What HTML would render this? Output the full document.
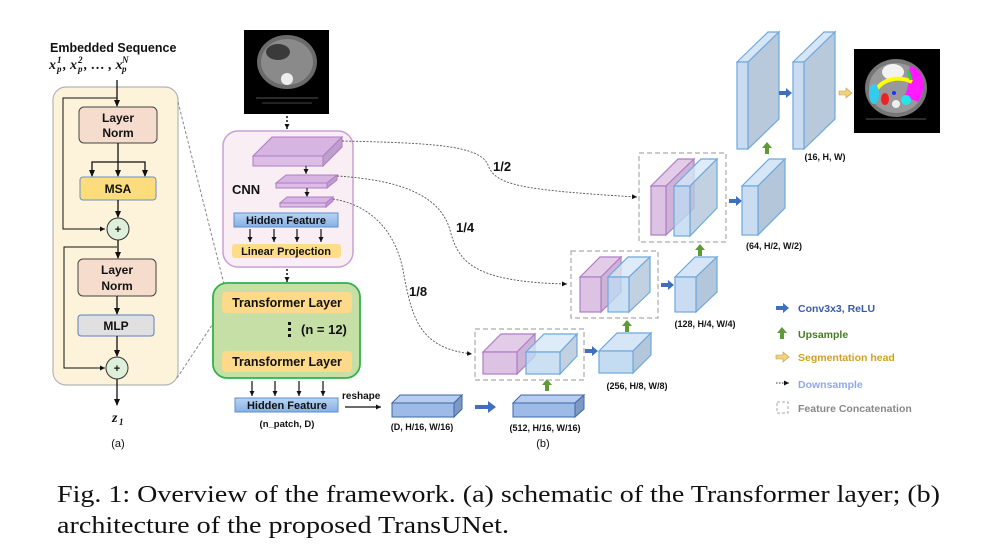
<!DOCTYPE html>
<html><head><meta charset="utf-8"><style>
html,body{margin:0;padding:0;background:#fff;}
svg{display:block;}
.b{font-family:"Liberation Sans",sans-serif;font-weight:bold;fill:#111;}
.m{font-family:"Liberation Serif",serif;font-style:italic;font-weight:bold;fill:#111;}
</style></head><body>
<svg width="998" height="557" viewBox="0 0 998 557" xmlns="http://www.w3.org/2000/svg">
<defs>
<marker id="ah" markerWidth="8" markerHeight="8" refX="6" refY="4" orient="auto" markerUnits="userSpaceOnUse"><path d="M0,1 L7,4 L0,7z" fill="#111"/></marker>
<marker id="sh" markerWidth="6" markerHeight="6" refX="5" refY="3" orient="auto" markerUnits="userSpaceOnUse"><path d="M0,0.5 L5,3 L0,5.5z" fill="#111"/></marker>
<linearGradient id="hf" x1="0" y1="0" x2="0" y2="1"><stop offset="0" stop-color="#b9d4f3"/><stop offset="1" stop-color="#86b0e3"/></linearGradient>
</defs>
<rect width="998" height="557" fill="#fff"/>

<!-- Panel (a) -->
<text x="50" y="52" class="b" font-size="12.5">Embedded Sequence</text>
<text x="49" y="69" class="m" font-size="14">x</text>
<text x="57" y="72" class="m" font-size="9">p</text>
<text x="57" y="63" class="m" font-size="9">1</text>
<text x="63" y="69" class="m" font-size="14">, x</text>
<text x="78" y="72" class="m" font-size="9">p</text>
<text x="78" y="63" class="m" font-size="9">2</text>
<text x="84" y="69" class="m" font-size="14">, … , x</text>
<text x="122" y="72" class="m" font-size="9">p</text>
<text x="122" y="63" class="m" font-size="9">N</text>
<rect x="53" y="87" width="125" height="298" rx="13" fill="#fdf2da" stroke="#b5b5b5" stroke-width="1.2"/>
<line x1="117" y1="80" x2="117" y2="106" stroke="#111" stroke-width="1.3" marker-end="url(#ah)"/>
<polyline points="117,98 63,98 63,229 105,229" fill="none" stroke="#111" stroke-width="1" marker-end="url(#sh)"/>
<rect x="79" y="107" width="78" height="36" rx="5" fill="#f6dccd" stroke="#444" stroke-width="1"/>
<text x="118" y="122" class="b" font-size="12" text-anchor="middle">Layer</text>
<text x="118" y="137" class="b" font-size="12" text-anchor="middle">Norm</text>
<line x1="118" y1="143" x2="118" y2="176" stroke="#111" stroke-width="1.3" marker-end="url(#ah)"/>
<polyline points="92,176 92,162 145,162 145,176" fill="none" stroke="#111" stroke-width="1.3"/>
<line x1="92" y1="170" x2="92" y2="176" stroke="#111" marker-end="url(#ah)"/>
<line x1="145" y1="170" x2="145" y2="176" stroke="#111" marker-end="url(#ah)"/>
<rect x="80" y="177" width="76" height="23" rx="3" fill="#fddc7b" stroke="#6a8fc7" stroke-width="1"/>
<text x="118" y="193" class="b" font-size="12" text-anchor="middle">MSA</text>
<line x1="118" y1="200" x2="118" y2="217" stroke="#111" stroke-width="1.3" marker-end="url(#ah)"/>
<circle cx="118" cy="229" r="11" fill="#dff0da" stroke="#333" stroke-width="1"/>
<text x="118" y="233" class="b" font-size="11" text-anchor="middle">+</text>
<line x1="118" y1="240" x2="118" y2="258" stroke="#111" stroke-width="1.3" marker-end="url(#ah)"/>
<polyline points="117,247 64,247 64,368 105,368" fill="none" stroke="#111" stroke-width="1" marker-end="url(#sh)"/>
<rect x="78" y="259" width="78" height="37" rx="5" fill="#f6dccd" stroke="#444" stroke-width="1"/>
<text x="117" y="274" class="b" font-size="12" text-anchor="middle">Layer</text>
<text x="117" y="290" class="b" font-size="12" text-anchor="middle">Norm</text>
<line x1="117" y1="296" x2="117" y2="314" stroke="#111" stroke-width="1.3" marker-end="url(#ah)"/>
<rect x="78" y="315" width="76" height="21" rx="3" fill="#e0e0e0" stroke="#5a7fbf" stroke-width="1"/>
<text x="116" y="330" class="b" font-size="12" text-anchor="middle">MLP</text>
<line x1="117" y1="336" x2="117" y2="356" stroke="#111" stroke-width="1.3" marker-end="url(#ah)"/>
<circle cx="117" cy="368" r="11" fill="#dff0da" stroke="#333" stroke-width="1"/>
<text x="117" y="372" class="b" font-size="11" text-anchor="middle">+</text>
<line x1="117" y1="379" x2="117" y2="405" stroke="#111" stroke-width="1.3" marker-end="url(#ah)"/>
<text x="112" y="422" class="m" font-size="14">z</text>
<text x="119" y="425" class="m" font-size="9">1</text>
<text x="118" y="447" font-family="Liberation Sans,sans-serif" font-size="11" fill="#111" text-anchor="middle">(a)</text>
<line x1="178" y1="102" x2="224" y2="284" stroke="#888" stroke-width="1" stroke-dasharray="3,2"/>
<line x1="177" y1="378" x2="226" y2="304" stroke="#888" stroke-width="1" stroke-dasharray="3,2"/>

<!-- CT image -->
<rect x="244" y="30" width="85" height="84" fill="#000"/>
<ellipse cx="287" cy="62" rx="30" ry="27" fill="#6a6a6a"/>
<ellipse cx="287" cy="62" rx="26" ry="23" fill="#8a8a8a"/>
<ellipse cx="278" cy="52" rx="12" ry="8" fill="#3a3a3a"/>
<circle cx="287" cy="79" r="6" fill="#eee"/>
<line x1="256" y1="98" x2="318" y2="98" stroke="#555" stroke-width="1"/>
<line x1="262" y1="103" x2="312" y2="103" stroke="#444" stroke-width="1"/>
<line x1="287" y1="116" x2="287" y2="129" stroke="#111" stroke-width="1.5" stroke-dasharray="2,2" marker-end="url(#sh)"/>

<!-- CNN box -->
<rect x="223" y="131" width="130" height="136" rx="15" fill="#f9eef4" stroke="#c89fd6" stroke-width="1.5"/>
<polygon points="253,156 272,137 342,137 323,156" fill="#d7b5e3" stroke="#b07cc6"/>
<polygon points="323,156 342,137 342,147 323,166" fill="#bf9fcc" stroke="#b07cc6"/>
<rect x="253" y="156" width="70" height="10" fill="#dcbde6" stroke="#b07cc6"/>
<line x1="306" y1="166" x2="306" y2="174" stroke="#111" marker-end="url(#sh)"/>
<polygon points="276,183 286,175 337,175 327,183" fill="#d7b5e3" stroke="#b07cc6"/>
<polygon points="327,183 337,175 337,180 327,188" fill="#bf9fcc" stroke="#b07cc6"/>
<rect x="276" y="183" width="51" height="5" fill="#dcbde6" stroke="#b07cc6"/>
<line x1="307" y1="188" x2="307" y2="197" stroke="#111" marker-end="url(#sh)"/>
<polygon points="280,203 287,197 333,197 326,203" fill="#d7b5e3" stroke="#b07cc6"/>
<polygon points="326,203 333,197 333,201 326,207" fill="#bf9fcc" stroke="#b07cc6"/>
<rect x="280" y="203" width="46" height="4" fill="#dcbde6" stroke="#b07cc6"/>
<text x="232" y="194" class="b" font-size="13">CNN</text>
<rect x="234" y="213" width="104" height="14" fill="url(#hf)" stroke="#5b8fd0"/>
<text x="286" y="224" class="b" font-size="11" text-anchor="middle">Hidden Feature</text>
<g stroke="#111" stroke-width="1.2">
<line x1="250" y1="229" x2="250" y2="242" marker-end="url(#sh)"/>
<line x1="274" y1="229" x2="274" y2="242" marker-end="url(#sh)"/>
<line x1="297" y1="229" x2="297" y2="242" marker-end="url(#sh)"/>
<line x1="321" y1="229" x2="321" y2="242" marker-end="url(#sh)"/>
</g>
<rect x="232" y="244" width="109" height="14" rx="3" fill="#fddc8a"/>
<text x="286" y="255" class="b" font-size="11" text-anchor="middle">Linear Projection</text>
<line x1="287" y1="269" x2="287" y2="282" stroke="#111" stroke-width="1.5" stroke-dasharray="2,2" marker-end="url(#sh)"/>

<!-- Transformer box -->
<rect x="213" y="283" width="147" height="95" rx="14" fill="#c6dfa6" stroke="#2fb34a" stroke-width="1.8"/>
<rect x="222" y="292" width="130" height="21" rx="4" fill="#fdd98a"/>
<text x="287" y="307" class="b" font-size="12.5" text-anchor="middle">Transformer Layer</text>
<rect x="288" y="322" width="3" height="3" fill="#111"/><rect x="288" y="328" width="3" height="3" fill="#111"/><rect x="288" y="334" width="3" height="3" fill="#111"/>
<text x="301" y="334" class="b" font-size="13">(n = 12)</text>
<rect x="222" y="351" width="130" height="21" rx="4" fill="#fdd98a"/>
<text x="287" y="366" class="b" font-size="12.5" text-anchor="middle">Transformer Layer</text>
<g stroke="#111" stroke-width="1.2">
<line x1="252" y1="381" x2="252" y2="396" marker-end="url(#sh)"/>
<line x1="275" y1="381" x2="275" y2="396" marker-end="url(#sh)"/>
<line x1="299" y1="381" x2="299" y2="396" marker-end="url(#sh)"/>
<line x1="323" y1="381" x2="323" y2="396" marker-end="url(#sh)"/>
</g>
<rect x="235" y="398" width="103" height="14" fill="url(#hf)" stroke="#5b8fd0"/>
<text x="287" y="409" class="b" font-size="11" text-anchor="middle">Hidden Feature</text>
<text x="287" y="427" class="b" font-size="9.5" text-anchor="middle">(n_patch, D)</text>
<text x="342" y="399" class="b" font-size="10">reshape</text>
<line x1="345" y1="407" x2="381" y2="407" stroke="#111" stroke-width="1.2" marker-end="url(#sh)"/>

<!-- skip curves -->
<g fill="none" stroke="#555" stroke-width="0.9" stroke-dasharray="2,1.5">
<path d="M342,141 C430,143 480,145 488,165 C495,185 520,190 637,197" marker-end="url(#sh)"/>
<path d="M337,176 C400,180 440,195 450,230 C458,260 470,282 567,284" marker-end="url(#sh)"/>
<path d="M333,199 C370,205 395,230 403,270 C412,320 420,348 472,354" marker-end="url(#sh)"/>
</g>
<text x="493" y="171" class="b" font-size="13">1/2</text>
<text x="456" y="232" class="b" font-size="13">1/4</text>
<text x="409" y="296" class="b" font-size="13">1/8</text>

<!-- D block -->
<polygon points="392,403 400,395 462,395 454,403" fill="#b6cdee" stroke="#3f68a8"/>
<polygon points="454,403 462,395 462,409 454,417" fill="#7d99c4" stroke="#3f68a8"/>
<rect x="392" y="403" width="62" height="14" fill="#9dbbe6" stroke="#3f68a8"/>
<text x="422" y="430" class="b" font-size="9" text-anchor="middle">(D, H/16, W/16)</text>
<polygon points="475,405 488,405 488,401 496,407 488,413 488,409 475,409" fill="#3f6fbd"/>
<polygon points="513,403 521,395 584,395 575,403" fill="#b6cdee" stroke="#3f68a8"/>
<polygon points="575,403 584,395 584,409 575,417" fill="#7d99c4" stroke="#3f68a8"/>
<rect x="513" y="403" width="62" height="14" fill="#9dbbe6" stroke="#3f68a8"/>
<text x="545" y="431" class="b" font-size="9" text-anchor="middle">(512, H/16, W/16)</text>
<text x="543" y="447" font-family="Liberation Sans,sans-serif" font-size="11" fill="#111" text-anchor="middle">(b)</text>

<!-- green up arrows -->
<g fill="#5f9a3a">
<polygon points="545,391 549,391 549,385 552,385 547,379 542,385 545,385"/>
<polygon points="625,332 629,332 629,326 632,326 627,320 622,326 625,326"/>
<polygon points="698,256 702,256 702,250 705,250 700,244 695,250 698,250"/>
<polygon points="765,154 769,154 769,148 772,148 767,142 762,148 765,148"/>
</g>

<!-- concat 1 -->
<rect x="475" y="329" width="109" height="51" fill="none" stroke="#aaa" stroke-width="1.2" stroke-dasharray="5,3"/>
<g stroke="#b07cc6" stroke-width="1.2">
<polygon points="483,352 501,334 535,334 517,352" fill="#e2cce8"/>
<polygon points="517,352 535,334 535,356 517,374" fill="#cdb3d6"/>
<rect x="483" y="352" width="34" height="22" fill="#dcc3e4"/>
</g>
<g stroke="#6fa8dc" stroke-width="1.2" fill-opacity="0.8">
<polygon points="526,352 544,334 577,334 560,352" fill="#d6e6f6"/>
<polygon points="560,352 577,334 577,356 560,374" fill="#b3c6da"/>
<rect x="526" y="352" width="34" height="22" fill="#bfd8f1"/>
</g>
<polygon points="585,349 592,349 592,346 598,351 592,356 592,353 585,353" fill="#3f6fbd"/>
<g stroke="#6fa8dc" stroke-width="1.2">
<polygon points="599,351 617,333 651,333 633,351" fill="#d6e6f6"/>
<polygon points="633,351 651,333 651,355 633,373" fill="#b3c6da"/>
<rect x="599" y="351" width="34" height="22" fill="#c4dcf2"/>
</g>
<text x="637" y="389" class="b" font-size="9" text-anchor="middle">(256, H/8, W/8)</text>

<!-- concat 2 -->
<rect x="571" y="251" width="87" height="67" fill="none" stroke="#aaa" stroke-width="1.2" stroke-dasharray="5,3"/>
<g stroke="#b07cc6" stroke-width="1.2">
<polygon points="580,277 600,257 621,257 601,277" fill="#e2cce8"/>
<polygon points="601,277 621,257 621,292 601,312" fill="#cdb3d6"/>
<rect x="580" y="277" width="21" height="35" fill="#dcc3e4"/>
</g>
<g stroke="#6fa8dc" stroke-width="1.2" fill-opacity="0.8">
<polygon points="608,277 628,257 650,257 629,277" fill="#d6e6f6"/>
<polygon points="629,277 650,257 650,292 629,312" fill="#b3c6da"/>
<rect x="608" y="277" width="21" height="35" fill="#bfd8f1"/>
</g>
<polygon points="661,283 668,283 668,280 674,285 668,290 668,287 661,287" fill="#3f6fbd"/>
<g stroke="#6fa8dc" stroke-width="1.2">
<polygon points="675,277 695,257 717,257 696,277" fill="#d6e6f6"/>
<polygon points="696,277 717,257 717,292 696,312" fill="#b3c6da"/>
<rect x="675" y="277" width="21" height="35" fill="#c9dcf2"/>
</g>
<text x="705" y="327" class="b" font-size="9" text-anchor="middle">(128, H/4, W/4)</text>

<!-- concat 3 -->
<rect x="639" y="153" width="87" height="89" fill="none" stroke="#aaa" stroke-width="1.2" stroke-dasharray="5,3"/>
<g stroke="#b07cc6" stroke-width="1.2">
<polygon points="651,186 678,159 694,159 666,186" fill="#e2cce8"/>
<polygon points="666,186 694,159 694,208 666,235" fill="#cdb3d6"/>
<rect x="651" y="186" width="15" height="49" fill="#dcc3e4"/>
</g>
<g stroke="#6fa8dc" stroke-width="1.2" fill-opacity="0.8">
<polygon points="674,186 701,159 717,159 690,186" fill="#d6e6f6"/>
<polygon points="690,186 717,159 717,208 690,236" fill="#b3c6da"/>
<rect x="674" y="186" width="16" height="50" fill="#bfd8f1"/>
</g>
<polygon points="729,199 736,199 736,196 742,201 736,206 736,203 729,203" fill="#3f6fbd"/>
<g stroke="#6fa8dc" stroke-width="1.2">
<polygon points="742,186 769,159 785,159 758,186" fill="#d6e6f6"/>
<polygon points="758,186 785,159 785,208 758,235" fill="#b3c6da"/>
<rect x="742" y="186" width="16" height="49" fill="#c9dcf2"/>
</g>
<text x="774" y="249" class="b" font-size="9" text-anchor="middle">(64, H/2, W/2)</text>

<!-- top slabs -->
<g stroke="#6fa8dc" stroke-width="1.2">
<polygon points="737,62 768,32 779,32 748,62" fill="#d6e6f6"/>
<polygon points="748,62 779,32 779,119 748,149" fill="#b9c9dc"/>
<rect x="737" y="62" width="11" height="87" fill="#c9dcf2"/>
</g>
<polygon points="779,91 786,91 786,88 792,93 786,98 786,95 779,95" fill="#3f6fbd"/>
<g stroke="#6fa8dc" stroke-width="1.2">
<polygon points="793,62 824,32 835,32 804,62" fill="#d6e6f6"/>
<polygon points="804,62 835,32 835,119 804,149" fill="#b9c9dc"/>
<rect x="793" y="62" width="11" height="87" fill="#c9dcf2"/>
</g>
<text x="825" y="160" class="b" font-size="9" text-anchor="middle">(16, H, W)</text>
<polygon points="839,91 846,91 846,88 852,93 846,98 846,95 839,95" fill="#f5d27a" stroke="#b89a50" stroke-width="0.6"/>

<!-- seg image -->
<rect x="854" y="49" width="86" height="84" fill="#000"/>
<ellipse cx="896" cy="88" rx="31" ry="29" fill="#777"/>
<ellipse cx="896" cy="88" rx="27" ry="25" fill="#999"/>
<ellipse cx="893" cy="72" rx="11" ry="8" fill="#f2f2f2"/>
<path d="M910,66 C925,68 927,90 918,102 L904,96 C910,88 908,76 910,66z" fill="#ff1aff"/>
<path d="M876,90 C884,78 900,76 912,82" fill="none" stroke="#ffff00" stroke-width="4"/>
<ellipse cx="874" cy="94" rx="5" ry="10" fill="#33ccee"/>
<ellipse cx="885" cy="99" rx="4" ry="6" fill="#ee2222"/>
<ellipse cx="906" cy="100" rx="5" ry="5" fill="#22e6ee"/>
<circle cx="894" cy="93" r="2" fill="#1a33ff"/>
<path d="M908,70 l3,10" stroke="#2ecc40" stroke-width="3"/>
<circle cx="896" cy="104" r="4" fill="#eee"/>
<line x1="866" y1="119" x2="926" y2="119" stroke="#555"/>

<!-- legend -->
<polygon points="776,306 783,306 783,303 789,308 783,313 783,310 776,310" fill="#3f6fbd"/>
<text x="798" y="312" font-family="Liberation Sans,sans-serif" font-weight="bold" font-size="10.5" fill="#3a5ba8">Conv3x3, ReLU</text>
<polygon points="780,339 784,339 784,333 787,333 782,327 777,333 780,333" fill="#5f9a3a"/>
<text x="798" y="338" font-family="Liberation Sans,sans-serif" font-weight="bold" font-size="10.5" fill="#4a7a2a">Upsample</text>
<polygon points="776,355 783,355 783,352 789,357 783,362 783,359 776,359" fill="#f5d27a" stroke="#b89a50" stroke-width="0.6"/>
<text x="798" y="361" font-family="Liberation Sans,sans-serif" font-weight="bold" font-size="10.5" fill="#d4a020">Segmentation head</text>
<line x1="776" y1="383" x2="789" y2="383" stroke="#333" stroke-width="0.9" stroke-dasharray="1.5,1.5" marker-end="url(#sh)"/>
<text x="798" y="388" font-family="Liberation Sans,sans-serif" font-weight="bold" font-size="10.5" fill="#8fa8e8">Downsample</text>
<rect x="777" y="402" width="11" height="11" fill="none" stroke="#aaa" stroke-dasharray="3,2"/>
<text x="798" y="412" font-family="Liberation Sans,sans-serif" font-weight="bold" font-size="10.5" fill="#888">Feature Concatenation</text>

<!-- caption -->
<text x="57" y="502" font-family="Liberation Serif,serif" font-size="24" fill="#111" textLength="883" lengthAdjust="spacingAndGlyphs">Fig. 1: Overview of the framework. (a) schematic of the Transformer layer; (b)</text>
<text x="57" y="533" font-family="Liberation Serif,serif" font-size="24" fill="#111" textLength="452" lengthAdjust="spacingAndGlyphs">architecture of the proposed TransUNet.</text>
</svg>
</body></html>
